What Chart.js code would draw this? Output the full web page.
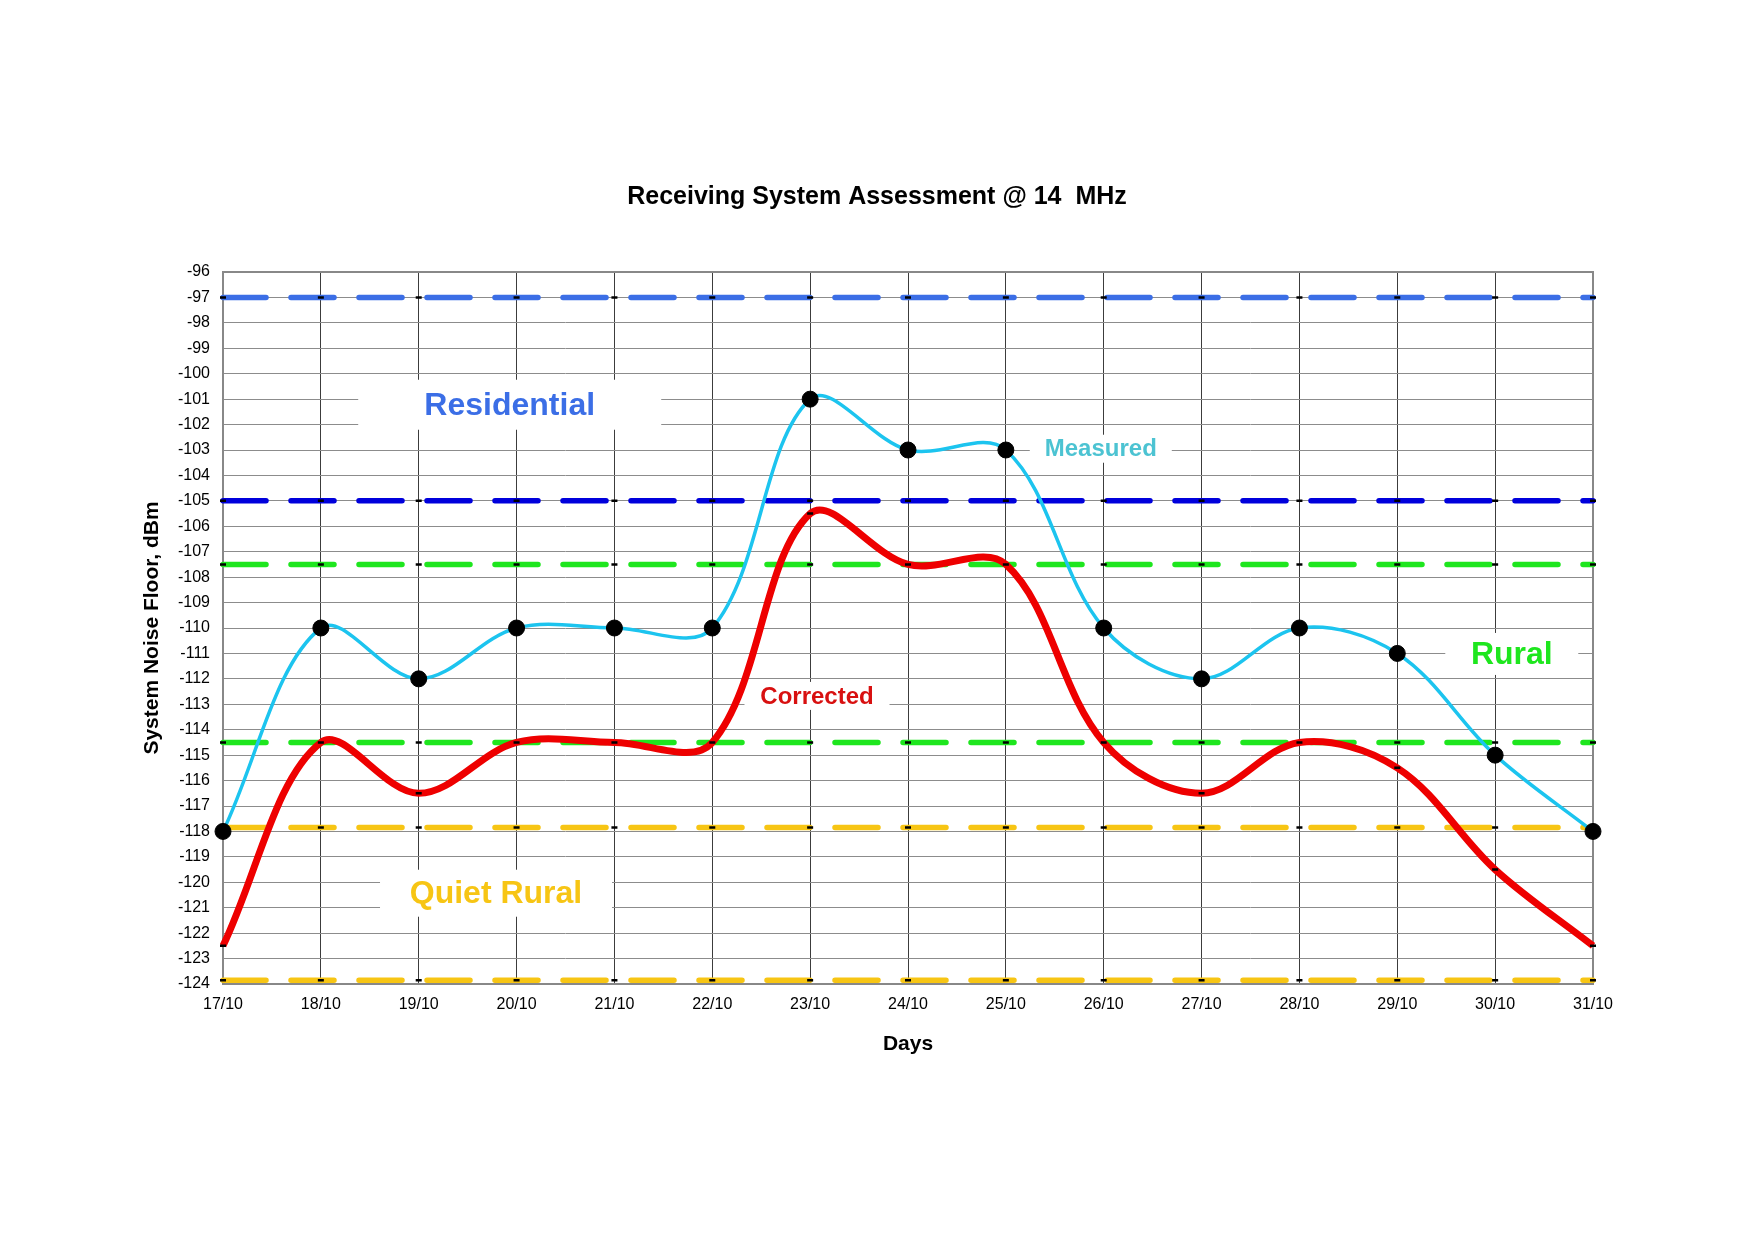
<!DOCTYPE html>
<html>
<head>
<meta charset="utf-8">
<title>Receiving System Assessment @ 14 MHz</title>
<script src="https://cdn.jsdelivr.net/npm/chart.js@4.4.1/dist/chart.umd.min.js"></script>
<style>
    html, body { margin: 0; padding: 0; background: #fff; }
    #wrap { width: 1754px; height: 1240px; }
</style>
</head>
<body>
<div id="wrap"><canvas id="noiseChart" width="1754" height="1240"></canvas></div>
<script>
// values
const days = ['17/10', '18/10', '19/10', '20/10', '21/10', '22/10', '23/10', '24/10',
              '25/10', '26/10', '27/10', '28/10', '29/10', '30/10', '31/10'];
const measured  = [-118, -110, -112, -110, -110, -110, -101, -103, -103, -110, -112, -110, -111, -115, -118];
const corrected = [-122.5, -114.5, -116.5, -114.5, -114.5, -114.5, -105.5, -107.5, -107.5, -114.5, -116.5, -114.5, -115.5, -119.5, -122.5];

// environment reference levels (dBm)
const refLevels = [-97, -105, -107.5, -114.5, -117.85, -123.85];

// y ticks
const yMin = -124;
const yMax = -96;

// in-plot notes: text, category position, dBm position
const noteText = ['Residential', 'Measured', 'Corrected', 'Rural', 'Quiet Rural'];
const noteX = [2.93, 8.97, 6.07, 13.17, 2.79];
const noteY = [-101.22, -102.95, -112.67, -111.02, -120.43];

const chartTitle = 'Receiving System Assessment @ 14  MHz';

// styles (kept apart from the data)
const FONT = '"Liberation Sans", Arial, sans-serif';
const refColors = ['#3b6ee6', '#0000dc', '#1ee61e', '#1ee61e', '#f7c514', '#f7c514'];
const noteStyle = [
    { color: '#3b6ee6', size: 32, w: 303, h: 50 },
    { color: '#4cc3d2', size: 24, w: 142, h: 28 },
    { color: '#d81010', size: 24, w: 145, h: 28 },
    { color: '#1ee61e', size: 32, w: 133, h: 42 },
    { color: '#f7c514', size: 32, w: 232, h: 47 }
];

const notesPlugin = {
    id: 'notes',
    beforeDatasetsDraw(chart) {
        const { ctx, chartArea, scales } = chart;
        ctx.save();
        // white boxes behind the notes hide the grid
        noteText.forEach((text, i) => {
            const st = noteStyle[i];
            const cx = scales.x.getPixelForValue(noteX[i]);
            const cy = scales.y.getPixelForValue(noteY[i]);
            ctx.fillStyle = '#ffffff';
            ctx.fillRect(cx - st.w / 2, cy - st.h / 2, st.w, st.h);
            ctx.fillStyle = st.color;
            ctx.font = `bold ${st.size}px ${FONT}`;
            ctx.textAlign = 'center';
            ctx.textBaseline = 'middle';
            ctx.fillText(text, cx, cy + 1);
        });
        // plot frame
        ctx.strokeStyle = '#888888';
        ctx.lineWidth = 2;
        ctx.strokeRect(chartArea.left, chartArea.top,
                       chartArea.right - chartArea.left, chartArea.bottom - chartArea.top);
        ctx.restore();
    },
    afterDraw(chart) {
        // title is centred on the whole page, not on the plot
        const { ctx } = chart;
        ctx.save();
        ctx.fillStyle = '#000';
        ctx.font = `bold 25px ${FONT}`;
        ctx.textAlign = 'center';
        ctx.textBaseline = 'middle';
        ctx.fillText(chartTitle, chart.width / 2, 197);
        ctx.restore();
    }
};

const refDatasets = refLevels.map((level, i) => ({
    label: 'ref ' + level,
    data: days.map(() => level),
    borderColor: refColors[i],
    borderWidth: 5.5,
    borderDash: [43, 25],
    borderCapStyle: 'round',
    tension: 0,
    pointStyle: 'line',
    pointRadius: 3,
    pointBorderColor: '#000',
    pointBorderWidth: 2.5,
    pointHoverRadius: 0,
    order: 5 + i
}));

new Chart(document.getElementById('noiseChart').getContext('2d'), {
    type: 'line',
    data: {
        labels: days,
        datasets: [
            {
                label: 'Measured',
                data: measured,
                borderColor: '#1cc4ef',
                borderWidth: 3.5,
                tension: 0.35,
                pointRadius: 8,
                pointBackgroundColor: '#000',
                pointBorderColor: '#000',
                pointBorderWidth: 1,
                clip: false,
                order: 0
            },
            {
                label: 'Corrected',
                data: corrected,
                borderColor: '#ee0000',
                borderWidth: 7,
                tension: 0.35,
                pointStyle: 'line',
                pointRadius: 3,
                pointBorderColor: '#000',
                pointBorderWidth: 2.5,
                order: 1
            },
            ...refDatasets
        ]
    },
    options: {
        responsive: false,
        animation: false,
        devicePixelRatio: 1,
        layout: { padding: { left: 140, right: 161, top: 272, bottom: 183 } },
        plugins: {
            legend: { display: false },
            tooltip: { enabled: false },
            title: { display: false }
        },
        scales: {
            x: {
                type: 'category',
                offset: false,
                grid: { color: '#3c3c3c', lineWidth: 1, drawTicks: false, offset: false },
                border: { display: false },
                ticks: {
                    color: '#000',
                    font: { family: FONT, size: 16 },
                    padding: 11,
                    maxRotation: 0,
                    autoSkip: false
                },
                title: {
                    display: true,
                    text: 'Days',
                    color: '#000',
                    font: { family: FONT, size: 21, weight: 'bold' },
                    padding: { top: 0, bottom: 0 }
                },
                afterFit(scale) { scale.height = 73; }
            },
            y: {
                min: yMin,
                max: yMax,
                grid: { color: '#8c8c8c', lineWidth: 1, drawTicks: false },
                border: { display: false },
                ticks: {
                    stepSize: 1,
                    color: '#000',
                    font: { family: FONT, size: 16 },
                    padding: 13,
                    callback: value => String(value)
                },
                title: {
                    display: true,
                    text: 'System Noise Floor, dBm',
                    color: '#000',
                    font: { family: FONT, size: 21, weight: 'bold' },
                    padding: { top: 0, bottom: 0 }
                },
                afterFit(scale) { scale.width = 83; }
            }
        }
    },
    plugins: [notesPlugin]
});
</script>
</body>
</html>
